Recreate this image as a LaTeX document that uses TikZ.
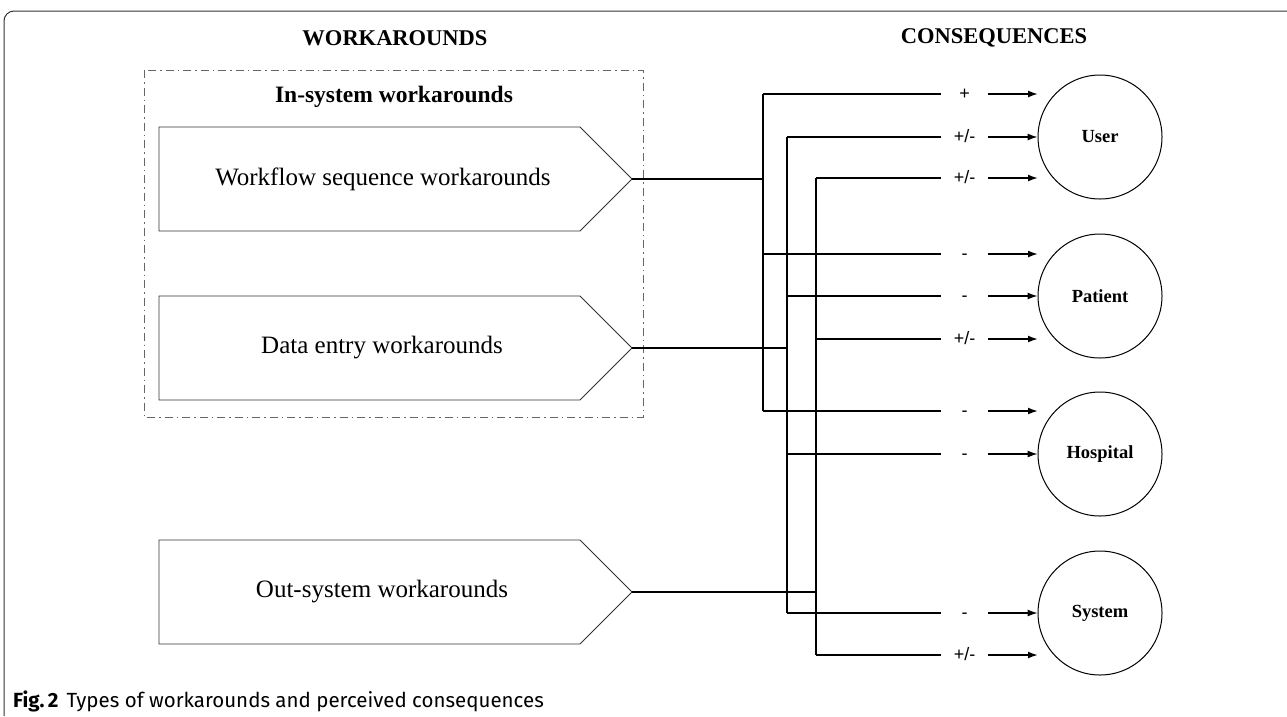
\documentclass[tikz,border=0pt]{standalone}
\usepackage{fontspec}
\setmainfont{Liberation Serif}
\newfontfamily\signfont{Liberation Sans}
\newfontfamily\capfont{Fira Sans}
\usetikzlibrary{arrows.meta}
\tikzset{
  penta/.style={draw=black!80, line width=0.9pt},
  watext/.style={font=\fontsize{25}{30}\selectfont, inner sep=0pt},
  head/.style={font=\bfseries\fontsize{22.5}{27}\selectfont, inner sep=0pt},
  circ/.style={circle, draw, line width=1pt, minimum size=124pt, inner sep=0pt, font=\bfseries\fontsize{18.5}{22}\selectfont},
  sign/.style={font=\signfont\fontsize{18}{22}\selectfont, anchor=base, inner sep=0pt},
  conA/.style={line width=1.7pt},
  conB/.style={line width=1.2pt},
  arr/.style={-{Latex[length=10pt,width=7pt]}},
  dashbox/.style={draw=black!60, line width=1pt, dash pattern=on 8pt off 4pt on 1.5pt off 4pt},
  frame/.style={draw=black!80, line width=1pt, rounded corners=10pt}
}
\newcommand\wbranch[6]{%
  \coordinate (#1s) at (#2,#3);
  \coordinate (#1e) at (941,#3);
  \coordinate (#1a) at (988,#3);
  \node[sign] (#1l) at (964.5,#3+5) {#4};
  \draw[#6] (#1s) -- (#1e);
  \draw[#6, arr] (#1a) -- (#5);
}
\begin{document}
\begin{tikzpicture}[x=1pt, y=-1pt]
\useasboundingbox (0,0) rectangle (1287,716);
\fill[white] (0,0) rectangle (1287,716);
% frame
\draw[frame] (4,716) -- (4,11) -- (1287,11);
% headings
\node[head] (hw) at (395,38) {WORKAROUNDS};
\node[head] (hc) at (994,38) {CONSEQUENCES};
% in-system box
\draw[dashbox] (144,70) rectangle (643,417);
\node[font=\bfseries\fontsize{23.5}{28}\selectfont, inner sep=0pt] (ins) at (394,97) {In-system workarounds};
% pentagons
\coordinate (wfTip) at (632,179);
\draw[penta] (159,127) -- (580,127) -- (wfTip) -- (580,231) -- (159,231) -- cycle;
\node[watext] (wf) at (383,179) {Workflow sequence workarounds};
\coordinate (deTip) at (632,348);
\draw[penta] (159,296) -- (580,296) -- (deTip) -- (580,400) -- (159,400) -- cycle;
\node[watext] (de) at (382,348) {Data entry workarounds};
\coordinate (osTip) at (632,592);
\draw[penta] (159,540) -- (580,540) -- (osTip) -- (580,644) -- (159,644) -- cycle;
\node[watext] (os) at (382,592) {Out-system workarounds};
% circles
\node[circ] (user) at (1100,137) {User};
\node[circ] (patient) at (1100,296) {Patient};
\node[circ] (hospital) at (1100,454) {Hospital};
\node[circ] (system) at (1100,613) {System};
% arrow end points off-centre
\coordinate (t1) at (1038,94);
\coordinate (t3) at (1038,178);
\coordinate (t4) at (1038,254);
\coordinate (t6) at (1038,339);
\coordinate (t7) at (1038,411);
\coordinate (t10) at (1038,655);
% branches
\wbranch{b1}{763}{94}{+}{t1}{conA}
\wbranch{b2}{787}{137}{+/-}{user.west}{conB}
\wbranch{b3}{816}{178}{+/-}{t3}{conA}
\wbranch{b4}{763}{254}{-}{t4}{conA}
\wbranch{b5}{787}{296}{-}{patient.west}{conB}
\wbranch{b6}{816}{339}{+/-}{t6}{conA}
\wbranch{b7}{763}{411}{-}{t7}{conA}
\wbranch{b8}{787}{454}{-}{hospital.west}{conB}
\wbranch{b9}{787}{613}{-}{system.west}{conB}
\wbranch{b10}{816}{655}{+/-}{t10}{conA}
% trunks
\draw[conA] (b1s) -- (b7s);
\draw[conB] (b2s) -- (b9s);
\draw[conA] (b3s) -- (b10s);
% inputs
\coordinate (wfJ) at (763,179);
\coordinate (deJ) at (787,348);
\coordinate (osJ) at (816,592);
\draw[conA] (wfTip) -- (wfJ);
\draw[conA] (deTip) -- (deJ);
\draw[conA] (osTip) -- (osJ);
% caption
\node[anchor=base west, inner sep=0pt, font=\capfont\fontsize{20.5}{24}\selectfont] (cap) at (13,707) {\textbf{Fig.\,2}\hspace{8pt}Types of workarounds and perceived consequences};
\end{tikzpicture}
\end{document}
